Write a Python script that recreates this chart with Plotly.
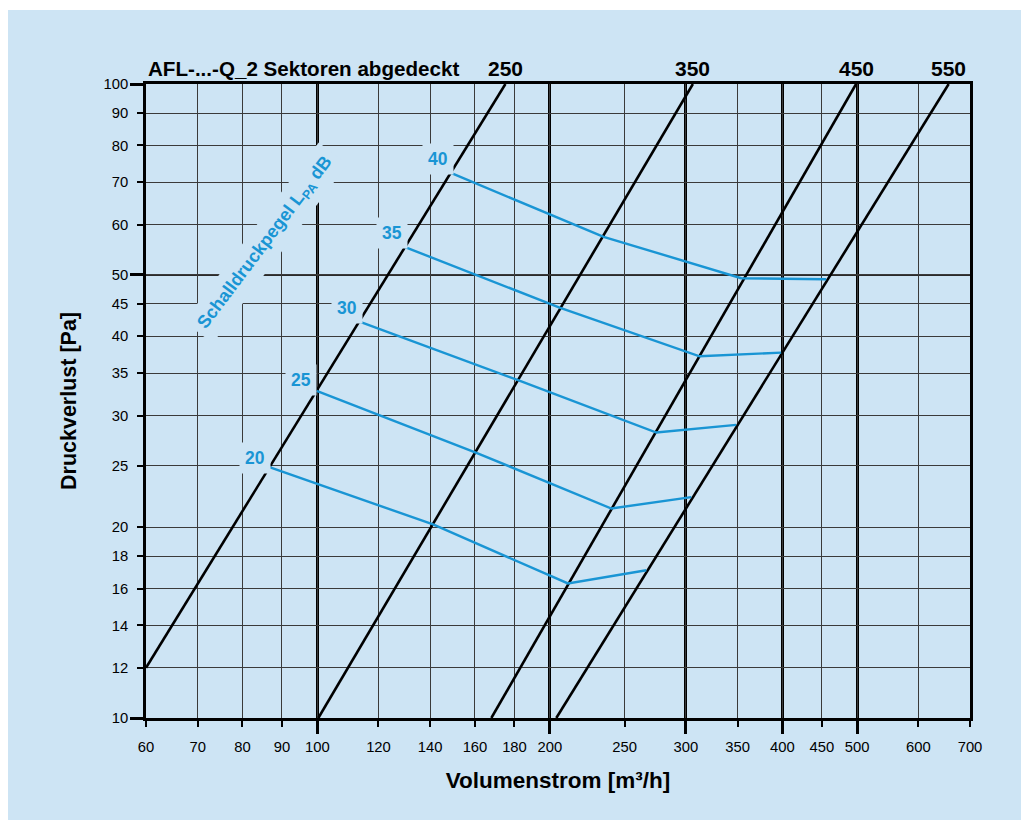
import math
import plotly.graph_objects as go

# ---------------- data ----------------
x_ticks = [60, 70, 80, 90, 100, 120, 140, 160, 180, 200, 250, 300, 350, 400, 450, 500, 600, 700]
y_ticks = [10, 12, 14, 16, 18, 20, 25, 30, 35, 40, 45, 50, 60, 70, 80, 90, 100]
x_major = [100, 200, 300, 400, 500]
y_major = [10, 50, 100]

# black characteristic lines (nominal sizes), start/end points
size_labels = ["250", "350", "450", "550"]
size_flow_start = [60.0, 100.3, 168.0, 203.9]
size_dp_start = [12.0, 10.0, 10.0, 10.0]
size_flow_end = [175.2, 306.4, 498.4, 656.9]
size_dp_end = [100.0, 100.0, 100.0, 100.0]

# blue sound pressure level lines (dB)
db_levels = [20, 25, 30, 35, 40]
flow_20 = [86.5, 141.2, 211.1, 266.7]
dp_20 = [24.9, 20.2, 16.3, 17.1]
flow_25 = [99.8, 160.7, 240.3, 304.9]
dp_25 = [32.8, 26.2, 21.4, 22.3]
flow_30 = [113.4, 181.9, 274.8, 348.6]
dp_30 = [42.2, 34.1, 28.2, 29.0]
flow_35 = [129.9, 205.9, 312.6, 398.6]
dp_35 = [55.3, 44.4, 37.2, 37.7]
flow_40 = [148.9, 234.8, 353.9, 455.9]
dp_40 = [72.4, 57.4, 49.4, 49.2]

db_flows = [flow_20, flow_25, flow_30, flow_35, flow_40]
db_dps = [dp_20, dp_25, dp_30, dp_35, dp_40]

# ---------------- style ----------------
BG = "#cde4f4"
BLUE = "#1995d4"
FONT = "Liberation Sans"
label_shift = [(-14, 9), (-16, 11), (-13, 14), (-13, 14), (-13, 14)]

# page has an 8px body margin; figure is sized to fit the 1029x820 window
W, H = 1021, 812
ML, MT = 138, 76
MR, MB = 59, 102
PW, PH = W - ML - MR, H - MT - MB

fig = go.Figure()

for i, lab in enumerate(size_labels):
    fig.add_trace(go.Scatter(
        x=[size_flow_start[i], size_flow_end[i]],
        y=[size_dp_start[i], size_dp_end[i]],
        mode="lines", line=dict(color="black", width=2.6),
        name=lab, showlegend=False, hoverinfo="skip"))

for lvl, fl, dp in zip(db_levels, db_flows, db_dps):
    fig.add_trace(go.Scatter(
        x=fl, y=dp, mode="lines", line=dict(color=BLUE, width=2.4),
        name=f"{lvl} dB", showlegend=False, hoverinfo="skip"))

annotations = []
# header
annotations.append(dict(
    text="<b>AFL-...-Q_2 Sektoren abgedeckt</b>", xref="paper", yref="paper",
    x=0.0, y=1.0, xanchor="left", yanchor="bottom", yshift=2, xshift=0,
    showarrow=False, font=dict(family=FONT, size=20.6, color="black")))
# size labels above each line end
for i, lab in enumerate(size_labels):
    annotations.append(dict(
        text=f"<b>{lab}</b>", xref="x", yref="paper",
        x=math.log10(size_flow_end[i]), y=1.0, xanchor="center", yanchor="bottom",
        yshift=2, showarrow=False,
        font=dict(family=FONT, size=21, color="black")))
# dB labels
for (lvl, fl, dp), (dx, dy) in zip(zip(db_levels, db_flows, db_dps), label_shift):
    annotations.append(dict(
        text=f"<b>{lvl}</b>", xref="x", yref="y",
        x=math.log10(fl[0]), y=math.log10(dp[0]), xshift=dx, yshift=dy,
        xanchor="center", yanchor="middle", showarrow=False,
        bgcolor=BG, borderpad=5,
        font=dict(family=FONT, size=17.5, color=BLUE)))
# rotated description
annotations.append(dict(
    text="<b>Schalldruckpegel L<sub>PA</sub> dB</b>", xref="paper", yref="paper",
    x=(265 - 146) / PW, y=(718 - 243) / PH, xanchor="center", yanchor="middle",
    textangle=-53, showarrow=False, bgcolor=BG, borderpad=6,
    font=dict(family=FONT, size=18, color=BLUE)))

fig.update_layout(
    width=W, height=H,
    margin=dict(l=ML, r=MR, t=MT, b=MB, pad=0),
    paper_bgcolor="white", plot_bgcolor=BG,
    font=dict(family=FONT, color="black"),
    annotations=annotations,
    shapes=[dict(type="rect", xref="paper", yref="paper", layer="below",
                 x0=(-2 - ML) / PW, x1=(W + 5 - ML) / PW,
                 y0=(MT + PH - H - 5) / PH, y1=(MT + PH - 2) / PH,
                 fillcolor=BG, line=dict(width=0))],
)

fig.update_xaxes(
    type="log", range=[math.log10(60), math.log10(700)],
    tickmode="array", tickvals=x_ticks, ticktext=[str(v) for v in x_ticks],
    ticks="outside", ticklen=6, tickwidth=1.5, tickcolor="black",
    tickfont=dict(family=FONT, size=14.8, color="black"),
    ticklabelstandoff=7,
    showgrid=True, gridcolor="#3a3a3a", gridwidth=1.3,
    showline=True, linecolor="black", linewidth=2.6, mirror=True,
    zeroline=False,
    minor=dict(tickmode="array", tickvals=x_major, ticks="outside", ticklen=13,
               tickwidth=2.6, tickcolor="black", showgrid=True,
               gridcolor="black", gridwidth=2.8),
    title=dict(text="<b>Volumenstrom [m³/h]</b>", standoff=19,
               font=dict(family=FONT, size=22.5, color="black")),
)
fig.update_yaxes(
    type="log", range=[1, 2],
    tickmode="array", tickvals=y_ticks, ticktext=[str(v) for v in y_ticks],
    ticks="outside", ticklen=6, tickwidth=1.5, tickcolor="black",
    tickfont=dict(family=FONT, size=14.8, color="black"),
    ticklabelstandoff=6,
    showgrid=True, gridcolor="#3a3a3a", gridwidth=1.3,
    showline=True, linecolor="black", linewidth=2.6, mirror=True,
    zeroline=False,
    minor=dict(tickmode="array", tickvals=y_major, ticks="outside", ticklen=13,
               tickwidth=2.6, tickcolor="black", showgrid=True,
               gridcolor="#2a2a2a", gridwidth=1.8),
    title=dict(text="<b>Druckverlust [Pa]</b>", standoff=22,
               font=dict(family=FONT, size=21.5, color="black")),
)

fig.write_html("out.html")
